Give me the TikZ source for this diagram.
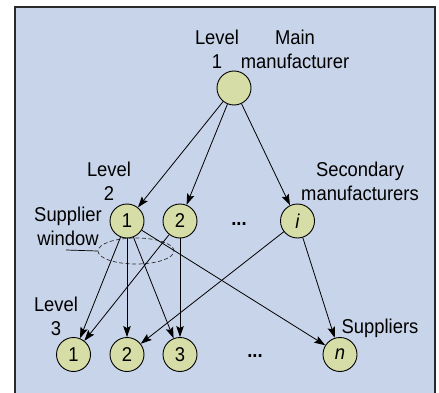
\documentclass[tikz,border=0pt]{standalone}
\usepackage{fontspec}
\setmainfont[FakeStretch=0.92]{Liberation Sans}
\usetikzlibrary{arrows.meta,shapes.geometric}
\definecolor{bgblue}{HTML}{C8D4E9}
\definecolor{nodefill}{HTML}{D6DDA7}
\definecolor{framecol}{HTML}{2A2A2A}
\tikzset{
  circ/.style={circle, draw=black, line width=0.9pt, fill=nodefill, minimum size=34pt, inner sep=0pt, font=\fontsize{20}{24}\selectfont},
  lbl/.style={align=center, inner sep=0pt, font=\fontsize{20}{24}\selectfont},
  arr/.style={line width=0.8pt, -{Stealth[length=11pt, width=7.5pt, inset=2pt]}},
}
\begin{document}
\begin{tikzpicture}[x=1pt, y=-1pt]
\useasboundingbox (0,0) rectangle (439,393);
\draw[fill=bgblue, draw=framecol, line width=1.2pt] (15,7) rectangle (435,410);

% nodes
\node[circ] (top) at (234,88) {};
\node[circ] (a1) at (127,221) {1};
\node[circ] (a2) at (180,221) {2};
\node[circ] (ai) at (297.5,221) {\itshape i};
\node[circ] (b1) at (73.5,354.5) {1};
\node[circ] (b2) at (127,354.5) {2};
\node[circ] (b3) at (180,354.5) {3};
\node[circ] (bn) at (340,354.5) {\itshape n};

% labels
\node[lbl] (l1) at (217,49) {Level\\1};
\node[lbl] (mm) at (295,49) {Main\\manufacturer};
\node[lbl] (l2) at (109,181) {Level\\2};
\node[lbl] (sm) at (360,181) {Secondary\\manufacturers};
\node[lbl] (sw) at (68,226) {Supplier\\window};
\node[lbl] (l3) at (56,316) {Level\\3};
\node[lbl, anchor=base] (sup) at (380,333) {Suppliers};
\node[lbl, anchor=base] (d2) at (239,225) {\bfseries ...};
\node[lbl, anchor=base] (d3) at (255,357) {\bfseries ...};

% supplier window ellipse
\node[draw=black!80, dash pattern=on 4pt off 2.5pt, line width=0.7pt, shape=ellipse, minimum width=76pt, minimum height=26pt, inner sep=0pt] (win) at (136,251) {};
\coordinate (swp) at (66,250);
\draw[line width=0.7pt] (swp) -- (win.west);

% connectors
\draw[arr] (top) -- (a1);
\draw[arr] (top) -- (a2);
\draw[arr] (top) -- (ai);
\draw[arr] (a1) -- (b1);
\draw[arr] (a1) -- (b2);
\draw[arr] (a1) -- (b3);
\draw[arr] (a1) -- (bn);
\draw[arr] (a2) -- (b1);
\draw[arr] (a2) -- (b3);
\draw[arr] (ai) -- (b2);
\draw[arr] (ai) -- (bn);
\end{tikzpicture}
\end{document}
